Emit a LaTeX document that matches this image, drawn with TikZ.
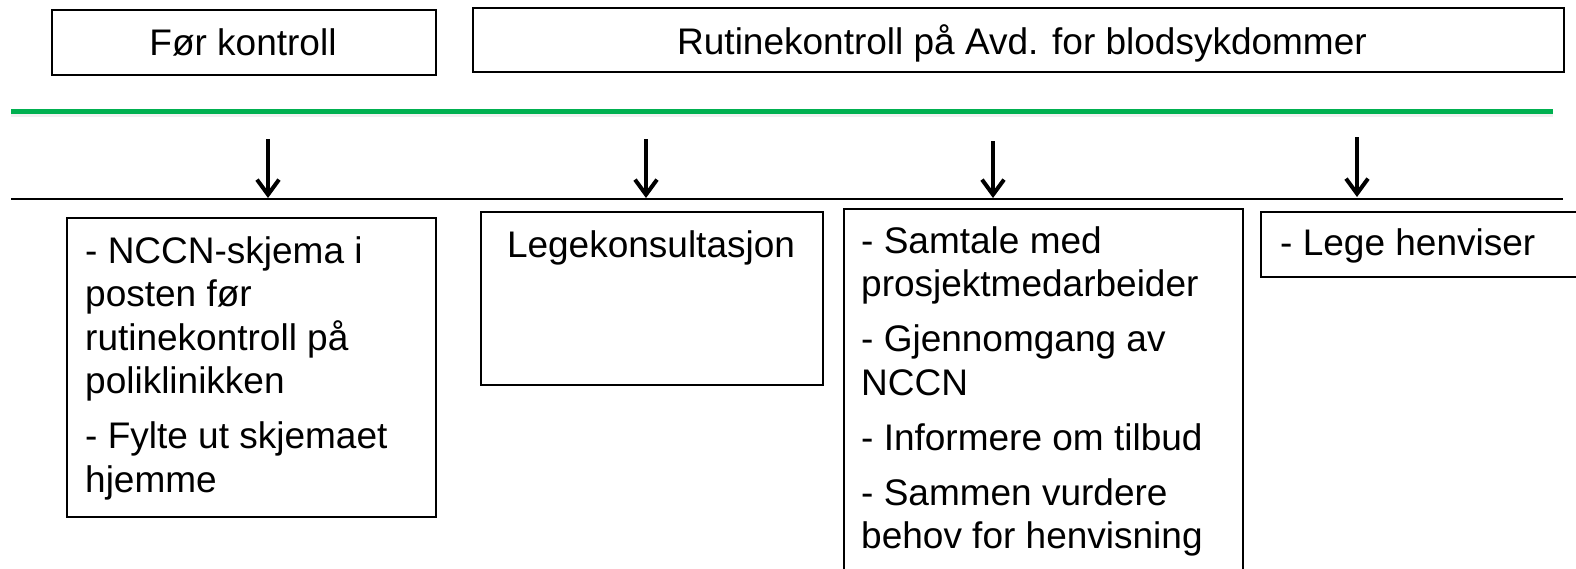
\documentclass[tikz,border=0pt]{standalone}
\usepackage{fontspec}
\setmainfont{Liberation Sans}
\usetikzlibrary{arrows.meta}
\definecolor{lineGreen}{RGB}{0,176,80}
\newcommand{\boxlines}[1]{\begin{tabular}[t]{@{}l@{}}#1\end{tabular}}
\begin{document}
\begin{tikzpicture}[x=1pt,y=-1pt,
  frame/.style={draw=black, line width=1.5pt, inner sep=0pt, anchor=north west},
  txt/.style={inner sep=0pt, anchor=base west, font=\fontsize{37}{43.5}\selectfont},
  ctxt/.style={inner sep=0pt, anchor=base, font=\fontsize{37}{43.5}\selectfont},
  down/.style={line width=4pt, -{Straight Barb[length=15pt,width=22pt]}}
]
\useasboundingbox (0,0) rectangle (1576,568);
\clip (0,0) rectangle (1576,568);

% top header boxes
\node[frame, minimum width=384pt, minimum height=65pt] (hdrA) at (51,9) {};
\node[ctxt] (hdrAt) at (243,55) {Før kontroll};
\node[frame, minimum width=1091pt, minimum height=64pt] (hdrB) at (472,7) {};
\node[ctxt] (hdrBt) at (1022,54) {Rutinekontroll på Avd. for blodsykdommer};

% green separator with faint shadow
\coordinate (gL) at (11,111.5);
\coordinate (gR) at (1553,111.5);
\draw[black, opacity=0.06, line width=5pt] ([yshift=-2.5pt]gL) -- ([yshift=-2.5pt]gR);
\draw[lineGreen, line width=5pt] (gL) -- (gR);

% black timeline
\coordinate (bL) at (11,199);
\coordinate (bR) at (1563,199);
\draw[black, line width=1.8pt] (bL) -- (bR);

% arrows
\coordinate (a1s) at (268,139);  \coordinate (a1e) at (268,198);
\coordinate (a2s) at (646,139);  \coordinate (a2e) at (646,198);
\coordinate (a3s) at (993,141);  \coordinate (a3e) at (993,198);
\coordinate (a4s) at (1357,137); \coordinate (a4e) at (1357,197);
\draw[down] (a1s) -- (a1e);
\draw[down] (a2s) -- (a2e);
\draw[down] (a3s) -- (a3e);
\draw[down] (a4s) -- (a4e);

% lower boxes
\node[frame, minimum width=369pt, minimum height=299pt] (boxA) at (66,217) {};
\node[txt] (boxAt) at (85,263) {\boxlines{- NCCN-skjema i\\ posten før\\ rutinekontroll på\\ poliklinikken\\[11.5pt] - Fylte ut skjemaet\\ hjemme}};

\node[frame, minimum width=342pt, minimum height=173pt] (boxB) at (480,211) {};
\node[ctxt] (boxBt) at (651,257) {Legekonsultasjon};

\node[frame, minimum width=399pt, minimum height=380pt] (boxC) at (843,208) {};
\node[txt] (boxCt) at (861,253) {\boxlines{- Samtale med\\ prosjektmedarbeider\\[11.5pt] - Gjennomgang av\\ NCCN\\[11.5pt] - Informere om tilbud\\[11.5pt] - Sammen vurdere\\ behov for henvisning}};

\node[frame, minimum width=340pt, minimum height=65pt] (boxD) at (1260,211) {};
\node[txt] (boxDt) at (1280,255) {- Lege henviser};
\end{tikzpicture}
\end{document}
